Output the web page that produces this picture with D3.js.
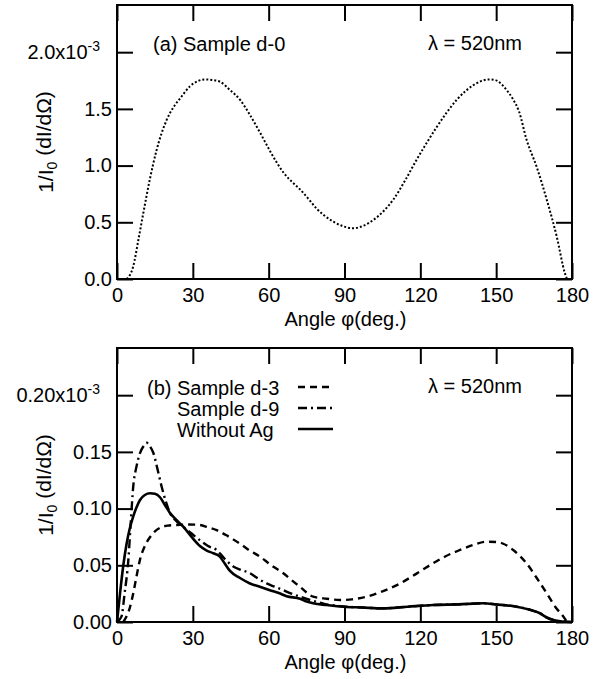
<!DOCTYPE html>
<html>
<head>
<meta charset="utf-8">
<script src="https://cdn.jsdelivr.net/npm/d3@7"></script>
<style>
  body { margin: 0; background: #fff; }
  text { font-family: "Liberation Sans", Arial, Helvetica, sans-serif; fill: #000; }
</style>
</head>
<body>
<svg id="canvas" width="603" height="679"></svg>
<script>
// x ticks shared by both panels (deg.)
const angleTicks = [0, 30, 60, 90, 120, 150, 180]

// panel (a): y in units of 1e-3
const topTicks = [0, 0.5, 1.0, 1.5, 2.0]
const topTickLabels = ['0.0', '0.5', '1.0', '1.5', '2.0x10']
const sampleD0 = [
  [3.9, 0], [6.4, 0.11], [8.5, 0.35], [10.4, 0.58], [13, 0.88], [15.7, 1.14], [19.6, 1.40],
  [22.5, 1.52], [24.9, 1.59], [28.9, 1.70], [32, 1.745], [34.8, 1.76], [37.5, 1.755], [40.7, 1.74],
  [44.5, 1.67], [48.7, 1.58], [52.5, 1.45], [56.6, 1.29], [61, 1.11], [65.8, 0.94], [70, 0.84],
  [72.4, 0.79], [76, 0.70], [79, 0.62], [82, 0.56], [85.6, 0.505], [89.5, 0.465], [93.5, 0.447],
  [97.5, 0.47], [101.4, 0.52], [105.5, 0.60], [109.3, 0.70], [114, 0.87], [118.5, 1.05], [122.5, 1.20],
  [126.5, 1.34], [130.5, 1.47], [134.4, 1.58], [138, 1.66], [141, 1.71], [144, 1.745], [146.9, 1.76],
  [149.5, 1.755], [151.5, 1.73], [154, 1.67], [156.8, 1.58], [159, 1.48], [162, 1.23], [166, 0.99],
  [170, 0.70], [174, 0.37], [177.2, 0.05], [178, 0]
]

// panel (b): y in units of 1e-3
const bottomTicks = [0, 0.05, 0.10, 0.15, 0.20]
const bottomTickLabels = ['0.00', '0.05', '0.10', '0.15', '0.20x10']
const sampleD3 = [
  [2.5, 0], [3.8, 0.005], [5, 0.012], [6.4, 0.025], [7.7, 0.04], [9.1, 0.055], [11, 0.067],
  [13.1, 0.075], [15, 0.08], [17, 0.083], [20, 0.085], [23.6, 0.0855], [28, 0.086], [32.8, 0.0855],
  [36, 0.0835], [39.4, 0.081], [44, 0.0755], [48.7, 0.069], [52.5, 0.063], [56.6, 0.0576], [61, 0.05],
  [65.8, 0.043], [69, 0.037], [72.4, 0.031], [77.6, 0.0223], [83, 0.0205], [88.2, 0.0194], [93, 0.020],
  [98.8, 0.0223], [105, 0.027], [112, 0.034], [118, 0.042], [125.1, 0.0518], [130, 0.058], [135.7, 0.0635],
  [141, 0.068], [146.2, 0.0708], [150, 0.0705], [152.8, 0.069], [157, 0.063], [162, 0.0518], [166, 0.039],
  [170, 0.0253], [173.5, 0.013], [176.6, 0.0047], [178, 0]
]
const sampleD9 = [
  [0, 0], [1.8, 0.005], [3, 0.025], [4.5, 0.055], [5.5, 0.09], [6.4, 0.119], [7.7, 0.137], [9.1, 0.149],
  [10.5, 0.155], [11.7, 0.158], [13, 0.155], [14.4, 0.149], [16, 0.135], [17.7, 0.119], [19.5, 0.105],
  [21, 0.096], [23.5, 0.089], [26.2, 0.084], [29.5, 0.078], [32.8, 0.072], [36, 0.067], [39.4, 0.0635],
  [42.5, 0.056], [46, 0.049], [49, 0.046], [52.6, 0.043], [56, 0.038], [59.2, 0.034], [62.5, 0.031],
  [65.8, 0.028], [69, 0.025], [72.4, 0.0223], [77, 0.019], [82, 0.016], [88, 0.014], [97, 0.0128],
  [105.3, 0.012], [115, 0.0135], [125.1, 0.015], [135, 0.0155], [144.9, 0.0165], [150, 0.0155],
  [158.1, 0.0135], [163, 0.011], [167.3, 0.0077], [170, 0.004], [172.6, 0.0018], [176, 0.0005], [180, 0]
]
const withoutAg = [
  [0, 0], [1.2, 0.0253], [2.5, 0.05], [3.8, 0.069], [5, 0.082], [6.4, 0.093], [7.7, 0.101], [9.1, 0.1076],
  [11, 0.112], [13.1, 0.1135], [15, 0.113], [17, 0.110], [19, 0.103], [21, 0.096], [23.5, 0.09],
  [26.2, 0.084], [29.5, 0.075], [32.8, 0.067], [35.5, 0.063], [38.1, 0.0606], [40.7, 0.0576], [42.5, 0.052],
  [44.7, 0.045], [48.5, 0.039], [52.6, 0.034], [56.5, 0.031], [60.5, 0.028], [64, 0.0255], [67.1, 0.0228],
  [72.4, 0.0205], [75, 0.018], [77.6, 0.0165], [83, 0.015], [89.5, 0.0135], [97, 0.0128], [105.3, 0.012],
  [115, 0.0135], [125.1, 0.015], [135, 0.0155], [144.9, 0.0165], [150, 0.0155], [158.1, 0.0135],
  [163, 0.011], [167.3, 0.0077], [170, 0.004], [172.6, 0.0018], [176, 0.0005], [180, 0]
]

const legendNames = ['Sample d-3', 'Sample d-9', 'Without Ag']

const svg = d3.select('#canvas')
const left = 117
const right = 572
const tick = 16
const fontSize = '20px'

function drawPanel({ top, bottom, yMax, yTicks, yLabels, series }) {
  const x = d3.scaleLinear().domain([0, 180]).range([left, right])
  const y = d3.scaleLinear().domain([0, yMax]).range([bottom, top])
  const g = svg.append('g')

  // inward ticks on all four sides
  g.append('g').attr('transform', `translate(0,${bottom})`)
    .call(d3.axisBottom(x).tickValues(angleTicks).tickSizeInner(-tick).tickSizeOuter(0).tickPadding(9))
  g.append('g').attr('transform', `translate(0,${top})`)
    .call(d3.axisTop(x).tickValues(angleTicks).tickSizeInner(-tick).tickSizeOuter(0).tickFormat(''))
  const yl = g.append('g').attr('transform', `translate(${left},0)`)
    .call(d3.axisLeft(y).tickValues(yTicks).tickSizeInner(-tick).tickSizeOuter(0).tickPadding(5)
      .tickFormat((d, i) => yLabels[i]))
  g.append('g').attr('transform', `translate(${right},0)`)
    .call(d3.axisRight(y).tickValues(yTicks).tickSizeInner(-tick).tickSizeOuter(0).tickFormat(''))

  g.selectAll('.domain').remove()
  g.selectAll('.tick line').attr('stroke', '#000').attr('stroke-width', 2)
  g.selectAll('.tick text').style('font-size', fontSize).attr('fill', '#000')

  // exponent on the top tick label
  yl.selectAll('.tick text').filter((d, i) => i === yTicks.length - 1)
    .attr('x', -17)
    .append('tspan').attr('dy', '-0.55em').style('font-size', '14px').text('-3')

  g.append('rect')
    .attr('x', left).attr('y', top)
    .attr('width', right - left).attr('height', bottom - top)
    .attr('fill', 'none').attr('stroke', '#000').attr('stroke-width', 2)

  const line = d3.line().x(d => x(d[0])).y(d => y(d[1])).curve(d3.curveMonotoneX)
  series.forEach(s => {
    g.append('path').datum(s.data)
      .attr('d', line)
      .attr('fill', 'none')
      .attr('stroke', '#000')
      .attr('stroke-width', s.width)
      .attr('stroke-dasharray', s.dash)
  })

  // axis titles
  g.append('text')
    .attr('x', (left + right) / 2 + 1).attr('y', bottom + 47)
    .attr('text-anchor', 'middle').style('font-size', fontSize)
    .text('Angle φ(deg.)')
  const yt = g.append('text')
    .attr('transform', `translate(53,${(top + bottom) / 2}) rotate(-90)`)
    .attr('text-anchor', 'middle').style('font-size', '21px')
  yt.append('tspan').text('1/I')
  yt.append('tspan').attr('dy', '0.3em').style('font-size', '14px').text('0')
  yt.append('tspan').attr('dy', '-0.3em').text(' (dI/dΩ)')

  g.append('text')
    .attr('x', 428).attr('y', top + 45)
    .style('font-size', fontSize)
    .text('λ = 520nm')

  return { g, x, y }
}

const styleD0 = { width: 2, dash: '2,2' }
const styleD3 = { width: 2.4, dash: '7,5' }
const styleD9 = { width: 2.4, dash: '9,4,2,4' }
const styleNoAg = { width: 2.6, dash: null }

const a = drawPanel({
  top: 5, bottom: 279, yMax: 2.416, yTicks: topTicks, yLabels: topTickLabels,
  series: [{ data: sampleD0, ...styleD0 }]
})
a.g.append('text')
  .attr('x', 153).attr('y', 51)
  .style('font-size', fontSize)
  .text('(a) Sample d-0')

const b = drawPanel({
  top: 348, bottom: 622, yMax: 0.2416, yTicks: bottomTicks, yLabels: bottomTickLabels,
  series: [
    { data: sampleD3, ...styleD3 },
    { data: sampleD9, ...styleD9 },
    { data: withoutAg, ...styleNoAg }
  ]
})

// legend
const legendStyles = [styleD3, styleD9, styleNoAg]
b.g.append('text')
  .attr('x', 147).attr('y', 395)
  .style('font-size', fontSize)
  .text('(b)')
legendNames.forEach((name, i) => {
  const baseY = 395 + i * 21
  b.g.append('text')
    .attr('x', 177).attr('y', baseY)
    .style('font-size', fontSize)
    .text(name)
  b.g.append('line')
    .attr('x1', 298).attr('x2', 333)
    .attr('y1', baseY - 8).attr('y2', baseY - 8)
    .attr('stroke', '#000')
    .attr('stroke-width', legendStyles[i].width)
    .attr('stroke-dasharray', legendStyles[i].dash)
})
</script>
</body>
</html>
